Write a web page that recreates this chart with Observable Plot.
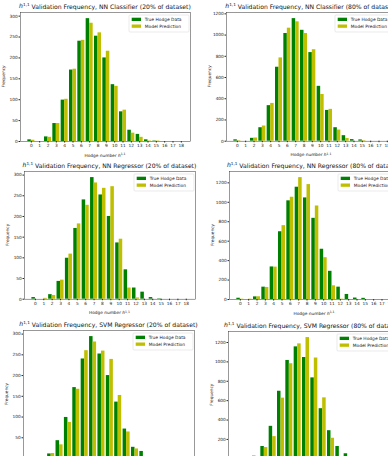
<!DOCTYPE html>
<html><head><meta charset="utf-8">
<script src="https://cdn.jsdelivr.net/npm/d3@7"></script>
<script src="https://cdn.jsdelivr.net/npm/@observablehq/plot@0.6"></script>
<style>
html,body{margin:0;padding:0;background:#fff;}
#fig{position:relative;width:388px;height:456px;overflow:hidden;background:#fff;}
#fig svg{position:absolute;background:none;overflow:visible;}
</style></head><body><div id="fig"></div>
<script>
// Hodge number h^{1,1} bins
const hodge = [0,1,2,3,4,5,6,7,8,9,10,11,12,13,14,15,16,17,18];

// True h^{1,1} counts in the validation sets
const true20 = [4,0,11,43,99,171,240,294,252,200,136,71,27,17,4,1,0,0,0];
const true80 = [13,0,27,127,335,697,1015,1155,1045,835,517,290,127,52,15,12,0,0,0];

// Predicted counts per model
const nnClassifier20 = [3,0,10,43,101,173,242,283,260,216,132,75,20,10,1,1,0,0,0];
const nnClassifier80 = [5,0,30,143,356,785,1065,1125,1015,862,440,300,105,25,0,5,0,0,0];
const nnRegressor20  = [0,2,9,46,109,182,227,281,268,272,145,27,3,0,0,0,0,0,0];
const nnRegressor80  = [3,3,28,124,333,760,1052,1254,1182,962,430,141,3,0,0,0,0,0,0];
const svmRegressor20 = [0,0,12,33,87,167,260,281,259,239,152,64,23,0,0,0,0,0,0];
const svmRegressor80 = [0,0,24,116,229,626,981,1186,1251,1040,629,212,0,0,0,0,0,0,0];

const titles = [
  "NN Classifier (20% of dataset)", "NN Classifier (80% of dataset)",
  "NN Regressor (20% of dataset)", "NN Regressor (80% of dataset)",
  "SVM Regressor (20% of dataset)", "SVM Regressor (80% of dataset)"
];
const ticks20 = [0,50,100,150,200,250,300];
const ticks80 = [0,200,400,600,800,1000,1200];
const legendLabels = ["True Hodge Data", "Model Prediction"];

const series = [
  [true20, nnClassifier20, ticks20], [true80, nnClassifier80, ticks80],
  [true20, nnRegressor20, ticks20],  [true80, nnRegressor80, ticks80],
  [true20, svmRegressor20, ticks20], [true80, svmRegressor80, ticks80]
];

// axes boxes on the page (left, top, width, height)
const boxes = [
  [20, 12, 170, 129], [225.7, 12, 170, 128.7],
  [23.5, 171, 171, 127.7], [229, 171, 170, 128],
  [23.3, 330, 171, 128], [228.3, 330.7, 170, 127.3]
];

const GREEN = "#008000", YELLOW = "#bfbf00";
const FONT = "DejaVu Sans, sans-serif";
const BW = 0.42; // bar width in bins
const fig = d3.select("#fig");

function hLabel(text, pre, post, supSize) {
  if (pre) text.append("tspan").text(pre);
  text.append("tspan").attr("font-style", "italic").text("h");
  text.append("tspan").attr("dy", "-0.42em").attr("font-size", supSize).text("1,1");
  if (post) text.append("tspan").attr("dy", "0.42em").text(post);
}

series.forEach(([truth, pred, yTicks], k) => {
  const [left, top, w, h] = boxes[k];
  const mL = 20, mT = 12, mR = 10, mB = 18;
  const rows = hodge.map((v, i) => ({h: v, t: truth[i], p: pred[i]}));
  const yMax = d3.max([...truth, ...pred]) * 1.05;
  const plot = Plot.plot({
    width: w + mL + mR, height: h + mT + mB,
    marginLeft: mL, marginTop: mT, marginRight: mR, marginBottom: mB,
    style: {fontFamily: FONT, fontSize: "4.3px", color: "#222", background: "none", overflow: "visible"},
    x: {domain: [-1.3, 19.1], ticks: hodge, tickFormat: d => String(d), tickSize: 1.5, tickPadding: 1.2, label: null},
    y: {domain: [0, yMax], ticks: yTicks, tickFormat: d => String(d), tickSize: 1.5, tickPadding: 1.2, label: null},
    marks: [
      Plot.rect(rows, {x1: d => d.h - BW, x2: d => d.h, y1: d => 0, y2: "t", fill: GREEN}),
      Plot.rect(rows, {x1: d => d.h, x2: d => d.h + BW, y1: d => 0, y2: "p", fill: YELLOW}),
      Plot.frame({stroke: "#333", strokeWidth: 0.5})
    ]
  });
  const svg = d3.select(plot);
  svg.style("left", (left - mL) + "px").style("top", (top - mT) + "px");
  fig.node().appendChild(plot);

  const cx = mL + w / 2;
  // title
  const t = svg.append("text").attr("x", cx).attr("y", mT - 3.8)
    .attr("text-anchor", "middle").attr("font-family", FONT).attr("font-size", 6.1).attr("fill", "#111");
  hLabel(t, null, " Validation Frequency, " + titles[k], 4.2);
  // x label
  const xl = svg.append("text").attr("x", cx).attr("y", mT + h + 15.5)
    .attr("text-anchor", "middle").attr("font-family", FONT).attr("font-size", 4.3).attr("fill", "#222");
  hLabel(xl, "Hodge number ", null, 3.1);
  // y label
  svg.append("text").attr("transform", `translate(${mL - 15.5},${mT + h / 2}) rotate(-90)`)
    .attr("text-anchor", "middle").attr("font-family", FONT).attr("font-size", 4.3).attr("fill", "#222")
    .text("Frequency");
  // legend
  const lx = mL + w - 61, ly = mT + 3;
  const lg = svg.append("g").attr("font-family", FONT).attr("font-size", 4.4).attr("fill", "#222")
    .attr("text-anchor", "start");
  lg.append("rect").attr("x", lx).attr("y", ly).attr("width", 60).attr("height", 17).attr("rx", 1)
    .attr("fill", "white").attr("fill-opacity", 0.8).attr("stroke", "#ccc").attr("stroke-width", 0.4);
  [GREEN, YELLOW].forEach((c, i) => {
    lg.append("rect").attr("x", lx + 2.7).attr("y", ly + 2.7 + i * 6.8).attr("width", 9.3).attr("height", 3.3).attr("fill", c);
    lg.append("text").attr("x", lx + 15.7).attr("y", ly + 4.35 + i * 6.8).attr("dy", "0.35em").text(legendLabels[i]);
  });
});
</script></body></html>
